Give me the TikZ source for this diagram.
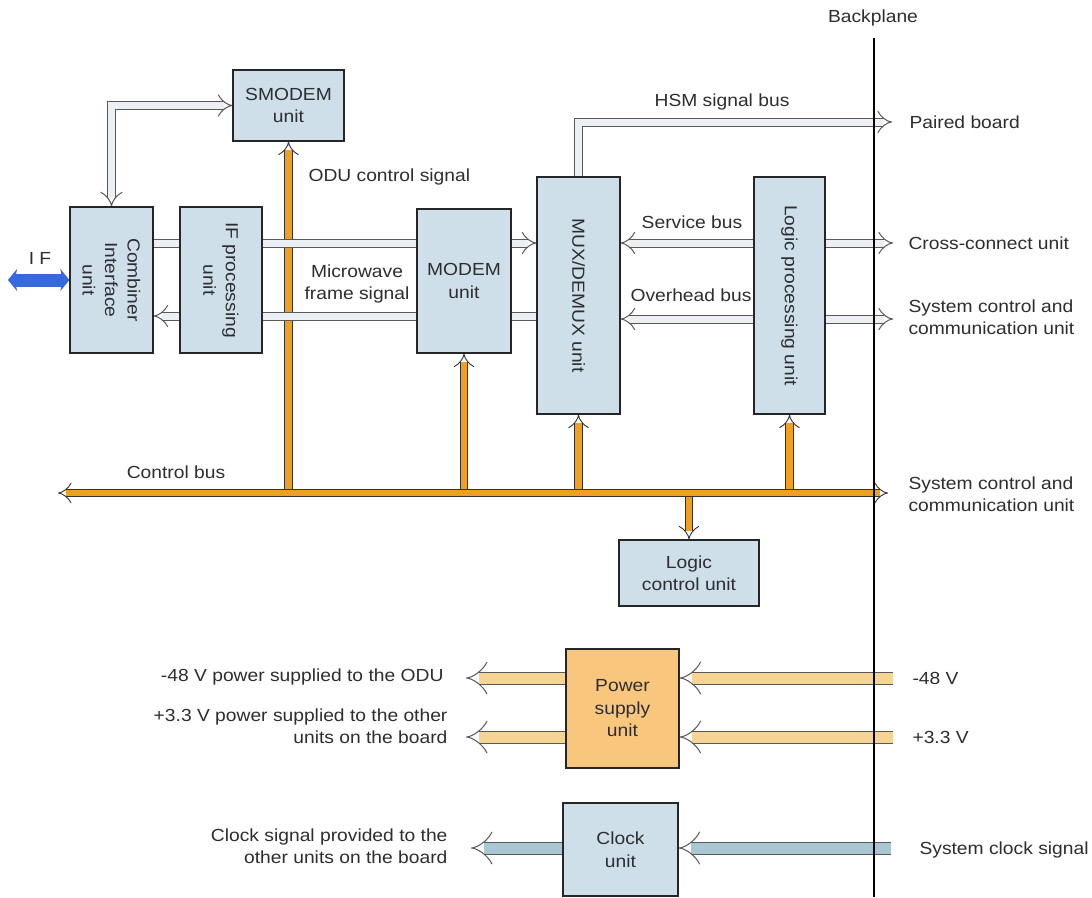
\documentclass[tikz,border=0pt]{standalone}
\usepackage{fontspec}
\setmainfont{Liberation Sans}[FakeStretch=1.1]
\usetikzlibrary{arrows.meta}

\definecolor{boxfill}{RGB}{206,223,233}
\definecolor{psufill}{RGB}{249,198,125}
\definecolor{busorange}{RGB}{240,160,30}
\definecolor{hollowfill}{RGB}{236,240,244}
\definecolor{pwrfill}{RGB}{245,212,148}
\definecolor{clkfill}{RGB}{168,198,212}
\definecolor{ifblue}{RGB}{55,105,222}
\definecolor{ink}{RGB}{45,45,50}

\pgfdeclarelayer{paper}
\pgfdeclarelayer{wires}
\pgfdeclarelayer{buses}
\pgfsetlayers{paper,wires,buses,main}

\begin{document}
\begin{tikzpicture}[x=1pt,y=-1pt,
  every node/.style={font=\fontsize{17.5}{22.5}\selectfont, text=ink},
  unit/.style={draw=black!85, line width=1.2pt, fill=boxfill, inner sep=0pt, align=center},
  lbl/.style={inner sep=0pt},
  tip/.tip={Implies[scale=1.25]},
  hbus/.style={draw=black!65, line width=1pt, double=hollowfill, double distance=7pt},
  obus/.style={draw=black!80, line width=0.9pt, double=busorange, double distance=6.5pt},
  pwr/.style={draw=black!65, line width=1pt, double=pwrfill, double distance=11pt},
  clkbus/.style={draw=black!65, line width=1pt, double=clkfill, double distance=11pt},
  ifbus/.style={draw=ifblue, line width=13pt}
]
\begin{pgfonlayer}{paper}
  \fill[white] (0,0) rectangle (1092,897);
\end{pgfonlayer}
\useasboundingbox (0,0) rectangle (1092,897);

% functional units
\node[unit, minimum width=111, minimum height=71] (smodem) at (288.5,105.5) {SMODEM\\unit};
\node[unit, minimum width=83, minimum height=146] (comb) at (111.5,280) {};
\node[lbl, rotate=-90, align=center] (combt) at (comb) {Combiner\\Interface\\unit};
\node[unit, minimum width=82, minimum height=146] (ifp) at (221,280) {};
\node[lbl, rotate=-90, align=center] (ifpt) at (ifp) {IF processing\\unit};
\node[unit, minimum width=94, minimum height=144] (modem) at (464,281) {MODEM\\unit};
\node[unit, minimum width=83, minimum height=237] (mux) at (578.5,295.5) {};
\node[lbl, rotate=-90] (muxt) at (mux) {MUX/DEMUX unit};
\node[unit, minimum width=71, minimum height=237] (lpu) at (789.5,295.5) {};
\node[lbl, rotate=-90] (lput) at (lpu) {Logic processing unit};
\node[unit, minimum width=140, minimum height=66] (lcu) at (689,573) {Logic\\control unit};
\node[unit, fill=psufill, minimum width=113, minimum height=119] (psu) at (622.5,708.5) {Power\\supply\\unit};
\node[unit, minimum width=115, minimum height=93] (clk) at (620.5,849.5) {Clock\\unit};

% free ends and bus levels
\coordinate (busL) at (58,493);
\coordinate (busR) at (888,493);
\coordinate (yUp) at (0,243);
\coordinate (yLo) at (0,316);
\coordinate (yOh) at (0,319);
\coordinate (svcR) at (893,243);
\coordinate (ohR) at (893,319);
\coordinate (hsmR) at (892,122);
\coordinate (ifL) at (8,280);
\coordinate (pin48) at (893,678);
\coordinate (pout48) at (466,678);
\coordinate (pin33) at (893,737);
\coordinate (pout33) at (466,737);
\coordinate (cin) at (891,848);
\coordinate (cout) at (471,848);
\coordinate (bpTop) at (874,38);
\coordinate (bpBot) at (874,897);

% control bus and its branches
\begin{pgfonlayer}{wires}
  \draw[obus, -tip] (smodem.south |- busL) -- (smodem.south);
  \draw[obus, -tip] (modem.south |- busL) -- (modem.south);
  \draw[obus, -tip] (mux.south |- busL) -- (mux.south);
  \draw[obus, -tip] (lpu.south |- busL) -- (lpu.south);
  \draw[obus, -tip] (lcu.north |- busL) -- (lcu.north);
  \draw[obus, tip-tip] (busL) -- (busR);
\end{pgfonlayer}

% signal buses
\begin{pgfonlayer}{buses}
  \draw[hbus, tip-tip] (comb.north) |- (smodem.west);
  \draw[hbus, -tip] (comb.east |- yUp) -- (mux.west |- yUp);
  \draw[hbus, -tip] (mux.west |- yLo) -- (comb.east |- yLo);
  \draw[hbus, -tip] (mux.north) |- (hsmR);
  \draw[hbus, tip-tip] (mux.east |- yUp) -- (svcR);
  \draw[hbus, tip-tip] (mux.east |- yOh) -- (ohR);
  \draw[ifbus, {Stealth[length=9pt,width=22pt,inset=2pt]}-{Stealth[length=9pt,width=22pt,inset=2pt]}] (ifL) -- (comb.west);
  \draw[pwr, -tip] (pin48) -- (psu.east |- pin48);
  \draw[pwr, -tip] (pin33) -- (psu.east |- pin33);
  \draw[pwr, -tip] (psu.west |- pout48) -- (pout48);
  \draw[pwr, -tip] (psu.west |- pout33) -- (pout33);
  \draw[clkbus, -tip] (cin) -- (clk.east |- cin);
  \draw[clkbus, -tip] (clk.west |- cout) -- (cout);
\end{pgfonlayer}

% backplane
\draw[line width=2.4pt, black] (bpTop) -- (bpBot);
\node (bplbl) at (873,18) {Backplane};

% labels
\node (iflbl) at (40,258) {I F};
\node[anchor=west] (oductl) at (305,177) {ODU control signal};
\node[align=center] (mwfs) at (357,284) {Microwave\\frame signal};
\node (hsmlbl) at (722,102) {HSM signal bus};
\node[anchor=west] (paired) at (906,122) {Paired board};
\node (svclbl) at (692,222) {Service bus};
\node[anchor=west] (xconn) at (905,243) {Cross-connect unit};
\node (ohlbl) at (691,295) {Overhead bus};
\node[anchor=west, align=left] (scc1) at (905,317) {System control and\\communication unit};
\node (ctlbus) at (176,472) {Control bus};
\node[anchor=west, align=left] (scc2) at (905,494) {System control and\\communication unit};
\node[anchor=west] (v48) at (909,678) {-48 V};
\node[anchor=west] (v33) at (909,737) {+3.3 V};
\node[anchor=west] (sysclk) at (916,850) {System clock signal};
\node[anchor=east] (odu48) at (447,677) {-48 V power supplied to the ODU};
\node[anchor=east, align=right] (oth33) at (451,726) {+3.3 V power supplied to the other\\units on the board};
\node[anchor=east, align=right] (clkout) at (451,846) {Clock signal provided to the\\other units on the board};
\end{tikzpicture}
\end{document}
